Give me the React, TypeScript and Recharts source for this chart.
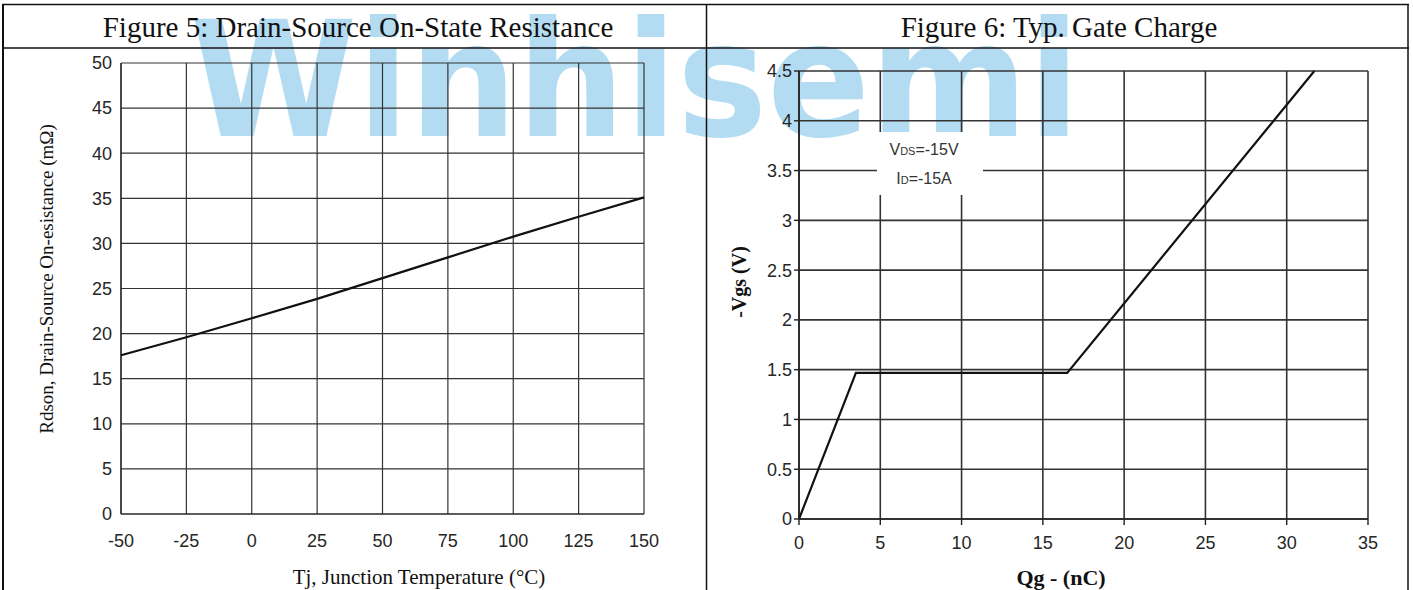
import React from 'react';
import { LineChart, Line, XAxis, YAxis, CartesianGrid } from 'recharts';

// Figure 5: Drain-Source On-State Resistance
const tjTemps = [-50, -25, 0, 25, 50, 75, 100, 125, 150];
const rdsonValues = [17.6, 19.6, 21.7, 23.85, 26.15, 28.45, 30.75, 32.95, 35.1];
const tjTicks = [-50, -25, 0, 25, 50, 75, 100, 125, 150];
const rdsonTicks = [0, 5, 10, 15, 20, 25, 30, 35, 40, 45, 50];

// Figure 6: Typ. Gate Charge
const qgValues = [0, 3.5, 16.5, 31.7];
const vgsValues = [0, 1.467, 1.467, 4.5];
const qgTicks = [0, 5, 10, 15, 20, 25, 30, 35];
const vgsTicks = [0, 0.5, 1, 1.5, 2, 2.5, 3, 3.5, 4, 4.5];

const rdsonData = tjTemps.map((t, i) => ({ t, r: rdsonValues[i] }));
const gateData = qgValues.map((q, i) => ({ q, v: vgsValues[i] }));

const tickStyle = { fill: '#262626', fontSize: 18, fontFamily: '"Liberation Sans", Arial, sans-serif' };
const serif = '"Liberation Serif", "Times New Roman", serif';

export default function App() {
  return (
    <div style={{ position: 'absolute', left: 0, top: 0, width: 1413, height: 590, background: '#fff', overflow: 'hidden' }}>
      <svg width={1413} height={590} style={{ position: 'absolute', left: 0, top: 0 }}>
        <text x={190} y={136} fontSize={160} fontWeight={900} fontFamily='"DejaVu Sans", sans-serif'
          textLength={890} lengthAdjust="spacingAndGlyphs" fill="#b3dcf2">Winhisemi</text>
      </svg>

      <div style={{ position: 'absolute', left: 0, top: 0 }}>
        <LineChart width={706} height={590} data={rdsonData} margin={{ top: 63, right: 62, bottom: 36, left: 61 }}>
          <CartesianGrid stroke="#333" strokeWidth={1.2} />
          <XAxis dataKey="t" type="number" domain={[-50, 150]} ticks={tjTicks} interval={0}
            tickLine={false} tickSize={6} tickMargin={14} height={40}
            axisLine={{ stroke: '#222', strokeWidth: 1.2 }} tick={tickStyle} />
          <YAxis dataKey="r" type="number" domain={[0, 50]} ticks={rdsonTicks} interval={0}
            tickLine={false} tickSize={6} tickMargin={3} width={60}
            axisLine={{ stroke: '#222', strokeWidth: 1.2 }} tick={tickStyle} />
          <Line type="linear" dataKey="r" stroke="#111" strokeWidth={2.2} dot={false} isAnimationActive={false} />
        </LineChart>
      </div>

      <div style={{ position: 'absolute', left: 706, top: 0 }}>
        <LineChart width={707} height={590} data={gateData} margin={{ top: 71, right: 45, bottom: 31, left: 33 }}>
          <CartesianGrid stroke="#333" strokeWidth={1.6} />
          <XAxis dataKey="q" type="number" domain={[0, 35]} ticks={qgTicks} interval={0}
            tickLine={{ stroke: '#222', strokeWidth: 1.4 }} tickSize={6} tickMargin={11} height={40}
            axisLine={{ stroke: '#222', strokeWidth: 1.6 }} tick={tickStyle} />
          <YAxis dataKey="v" type="number" domain={[0, 4.5]} ticks={vgsTicks} interval={0}
            tickLine={{ stroke: '#222', strokeWidth: 1.4 }} tickSize={5} tickMargin={2} width={60}
            axisLine={{ stroke: '#222', strokeWidth: 1.6 }} tick={tickStyle} />
          <Line type="linear" dataKey="v" stroke="#111" strokeWidth={2.2} dot={false} isAnimationActive={false} />
        </LineChart>
      </div>

      <div style={{ position: 'absolute', left: 877, top: 132, width: 106, height: 63, background: '#fff',
        fontFamily: '"Liberation Sans", Arial, sans-serif', color: '#333', fontSize: 16, textAlign: 'center',
        lineHeight: '27px', paddingTop: 4, paddingRight: 12, boxSizing: 'border-box' }}>
        <div>V<span style={{ fontSize: 11 }}>DS</span>=-15V</div>
        <div>I<span style={{ fontSize: 11 }}>D</span>=-15A</div>
      </div>

      <svg width={1413} height={590} style={{ position: 'absolute', left: 0, top: 0, pointerEvents: 'none' }}>
        <line x1={2} y1={4.5} x2={1409} y2={4.5} stroke="#111" strokeWidth={1.5} />
        <line x1={2} y1={48} x2={1409} y2={48} stroke="#111" strokeWidth={1.5} />
        <line x1={3} y1={4} x2={3} y2={590} stroke="#111" strokeWidth={2} />
        <line x1={706.5} y1={4} x2={706.5} y2={590} stroke="#111" strokeWidth={1.5} />
        <line x1={1408} y1={4} x2={1408} y2={590} stroke="#111" strokeWidth={1.5} />
        <text x={358} y={27} textAnchor="middle" dominantBaseline="central" fontFamily={serif} fontSize={29} fill="#111">Figure 5: Drain-Source On-State Resistance</text>
        <text x={1059} y={27} textAnchor="middle" dominantBaseline="central" fontFamily={serif} fontSize={29} fill="#111">Figure 6: Typ. Gate Charge</text>
        <text transform="translate(46,279) rotate(-90)" textAnchor="middle" dominantBaseline="central" fontFamily={serif} fontSize={19} fill="#111">Rdson, Drain-Source On-esistance (mΩ)</text>
        <text x={419} y={577} textAnchor="middle" dominantBaseline="central" fontFamily={serif} fontSize={21} fill="#111">Tj, Junction Temperature (°C)</text>
        <text transform="translate(739,282) rotate(-90)" textAnchor="middle" dominantBaseline="central" fontFamily={serif} fontSize={20} fontWeight="bold" fill="#111">-Vgs (V)</text>
        <text x={1061} y={577} textAnchor="middle" dominantBaseline="central" fontFamily={serif} fontSize={22} fontWeight="bold" fill="#111">Qg - (nC)</text>
      </svg>
    </div>
  );
}
